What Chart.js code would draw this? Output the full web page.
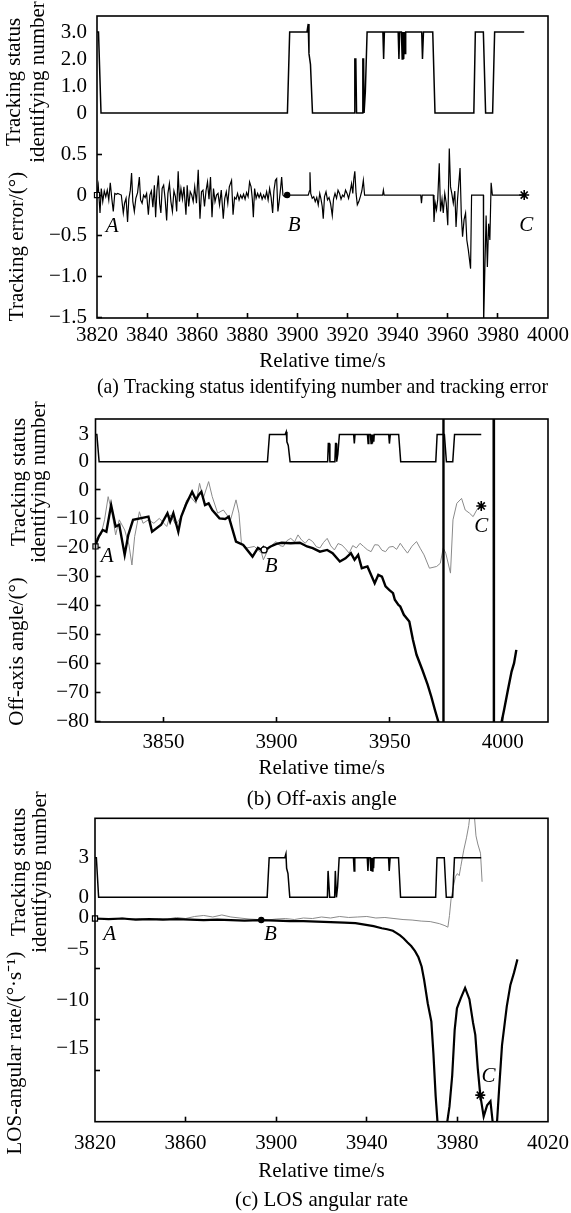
<!DOCTYPE html>
<html><head><meta charset="utf-8">
<script src="https://cdn.jsdelivr.net/npm/chart.js@4/dist/chart.umd.min.js"></script>
<style>
html,body{margin:0;padding:0;background:#fff;}
#wrap{position:relative;width:571px;height:1213px;overflow:hidden;background:#fff;}
canvas{position:absolute;left:0;}
</style></head><body><div id="wrap">
<canvas id="ca" width="571" height="410" style="top:0px"></canvas>
<canvas id="cb" width="571" height="425" style="top:395px"></canvas>
<canvas id="cc" width="571" height="428" style="top:785px"></canvas>
</div>
<script>
// ---------------- DATA ----------------
// tracking status identifying number (shared by all three panels): [time s, status]
const STATUS = [[3820,3],[3820.6,3],[3821.6,0],[3896,0],[3896.9,3],[3903.8,3],[3904.3,3.3],[3904.6,2.2],[3905.2,1.8],[3906,0],
[3922.6,0],[3922.9,2],[3923.3,2],[3923.6,0],[3925.8,0],[3926.1,2],[3926.4,2],[3926.6,0],[3927.1,0.8],[3927.8,3],
[3934.1,3],[3934.4,2],[3934.7,3],[3940.2,3],[3940.5,2],[3940.8,3],[3941.5,3],[3941.8,2],[3942.1,3],[3942.4,2],[3942.7,3],[3943.0,2.2],[3943.2,3],
[3949.6,3],[3949.9,2],[3950.3,3],[3954.0,3],[3954.9,0],[3970.4,0],[3971.0,3],[3974.2,3],[3975.1,0],[3977.9,0],[3978.7,3],[3990.5,3]];

// (a) tracking error /deg
const TRACK_ERROR = [[3820,0.02],[3820.5,0.12],[3821.2,-0.22],[3821.7,0.08],[3822.3,-0.08],[3822.9,0.05],[3823.5,-0.02],[3824.1,0.06],[3824.7,-0.06],[3825.3,0.15],[3825.9,-0.04],[3826.5,-0.2],[3827.1,0.02],[3827.7,0.01],[3828.3,0.02],[3829,0.01],[3829.7,0.0],[3830.5,-0.22],[3831,-0.1],[3831.6,-0.04],[3832.2,-0.33],[3832.7,-0.05],[3833.3,0.06],[3833.8,0.27],[3834.3,-0.08],[3834.9,-0.2],[3835.5,-0.04],[3836.2,0.03],[3836.9,0.22],[3837.4,-0.06],[3838,-0.1],[3838.6,0.0],[3839.2,-0.03],[3839.8,0.02],[3840.5,-0.24],[3841.1,0.0],[3841.7,0.05],[3842.3,-0.15],[3842.9,0.12],[3843.4,-0.27],[3843.9,0.05],[3844.5,0.24],[3845,-0.1],[3845.5,-0.22],[3846,0.08],[3846.6,0.12],[3847.2,-0.05],[3847.8,-0.31],[3848.3,0.02],[3848.9,0.14],[3849.5,-0.08],[3850.1,-0.2],[3850.7,0.05],[3851.3,-0.02],[3851.8,-0.2],[3852.4,0.29],[3852.9,-0.08],[3853.5,0.08],[3854.1,-0.05],[3854.7,0.1],[3855.5,-0.24],[3856,0.12],[3856.6,-0.14],[3857.2,0.04],[3857.8,0.0],[3858.4,-0.08],[3859,0.1],[3859.7,-0.1],[3860.4,0.31],[3861.1,-0.29],[3861.7,0.04],[3862.3,0.06],[3862.9,-0.14],[3863.5,0.05],[3864.1,0.16],[3864.7,-0.05],[3865.3,0.22],[3865.9,-0.27],[3866.5,0.08],[3867.1,-0.08],[3867.7,0.0],[3868.3,0.02],[3868.9,-0.12],[3869.6,0.06],[3870.4,-0.29],[3871,-0.04],[3871.6,0.04],[3872.2,-0.1],[3872.8,0.1],[3873.7,0.18],[3874.3,-0.24],[3874.9,-0.03],[3875.5,-0.05],[3876.1,0.02],[3876.7,-0.06],[3877.3,0.0],[3877.9,-0.04],[3878.5,0.01],[3879.1,-0.05],[3879.7,0.03],[3880.3,-0.02],[3880.9,0.16],[3881.5,0.1],[3882,-0.05],[3882.4,-0.27],[3882.9,0.08],[3883.5,-0.04],[3884.1,0.02],[3884.7,-0.03],[3885.3,0.02],[3885.9,-0.05],[3886.5,0.0],[3887.1,-0.04],[3887.7,0.04],[3888.3,-0.06],[3888.9,0.08],[3889.5,-0.03],[3890.1,-0.22],[3890.6,0.05],[3891.2,0.18],[3891.7,0.2],[3892.2,-0.2],[3892.7,-0.08],[3893.2,0.06],[3893.7,0.22],[3894.2,0.0],[3894.8,-0.02],[3895.3,-0.02],[3895.9,0.0],
[3904.3,0],[3904.8,0.05],[3905,0.28],[3905.3,0.02],[3905.9,-0.04],[3906.5,-0.02],[3907.1,-0.08],[3907.7,-0.03],[3908.3,-0.12],[3908.9,0.02],[3909.4,-0.05],[3909.9,-0.14],[3910.3,-0.29],[3910.8,-0.02],[3911.4,0.04],[3912,-0.06],[3912.6,-0.03],[3913.2,-0.1],[3913.9,-0.25],[3914.4,-0.05],[3915,0.02],[3915.6,-0.04],[3916.2,0.06],[3916.8,0.02],[3917.4,-0.05],[3918,0.0],[3918.6,-0.02],[3919.2,0.06],[3919.8,0.02],[3920.4,-0.04],[3921,0.04],[3921.6,0.14],[3922.1,0.02],[3922.5,0.2],[3922.9,0.29],[3923.4,0.02],[3923.9,-0.12],[3924.5,-0.08],[3925.1,-0.02],[3925.7,0.05],[3926.3,0.18],[3926.8,0.0],
[3934,0],[3934.3,0.06],[3934.6,0],[3949.2,0],[3949.5,-0.1],[3949.8,0],[3954.2,0],[3954.5,-0.33],[3955,-0.1],[3955.5,-0.18],[3956,-0.05],[3956.6,0.39],[3957.1,-0.2],[3957.7,-0.05],[3958.2,-0.22],[3958.8,0.02],[3959.4,-0.1],[3960,-0.37],[3960.6,0.57],[3961.1,0.1],[3961.6,0.02],[3962.2,-0.1],[3962.8,0.05],[3963.3,-0.39],[3963.9,-0.05],[3964.9,0.33],[3965.4,-0.24],[3965.9,-0.51],[3966.5,-0.3],[3967.1,-0.22],[3967.6,-0.55],[3968.2,-0.67],[3969.1,-0.9],[3969.5,0],[3974.2,0],[3974.3,-1.6],[3974.8,-0.9],[3975.3,-0.25],[3975.8,-0.88],[3976.3,-0.35],[3976.8,-0.55],[3977.3,0.15],[3977.8,0],[3990.5,0]];

// (b) off-axis angle /deg, thick black and thin grey curves
const OFFAXIS_BLACK = [[3820,-19],[3821.5,-16],[3823.2,-13.8],[3824.8,-14.4],[3826.9,-5.2],[3828.9,-12.6],[3830.5,-12],[3832.9,-22.4],[3834.5,-15.5],[3836.6,-10.3],[3843.4,-9.2],[3845,-14.4],[3849,-12],[3851.8,-8],[3853,-10.9],[3854.4,-8],[3856.6,-14.4],[3857.9,-9.2],[3860,-5],[3862.7,-0.6],[3864.4,-3.4],[3865.6,-1.7],[3866.8,-0.6],[3868.4,-5.2],[3870,-4.6],[3871.6,-6.9],[3874.8,-9.8],[3877.3,-10],[3878.9,-9.2],[3882.1,-17.8],[3885.3,-19],[3889.4,-23],[3891.8,-20],[3893.4,-20.7],[3894.2,-19.8],[3895,-20.7],[3897.4,-19.5],[3900,-18.6],[3902.3,-18.2],[3906.3,-18.4],[3910.3,-18.2],[3913.5,-19.5],[3916,-20.1],[3919.2,-21.3],[3922.4,-20.7],[3924.8,-21.8],[3928,-24.7],[3930.5,-23.6],[3932.9,-21.8],[3934.5,-24.1],[3936.1,-22.4],[3937.7,-27],[3940.2,-26.4],[3943.4,-32.2],[3945,-29.3],[3946.6,-29.9],[3948.2,-33.3],[3949.8,-34.5],[3951.5,-35.6],[3952.3,-37.9],[3953.9,-39.7],[3954.7,-40.2],[3956.3,-43.1],[3958.7,-45.4],[3960.3,-51.7],[3961.9,-56.9],[3964.4,-62],[3966.8,-67.2],[3968.4,-71.3],[3970,-75.9],[3971.6,-80.2],[3973.6,-88],[3973.8,95],[3995.9,95],[3996.1,-95],[3999.5,-80],[4000.6,-75.9],[4002.3,-69],[4003.9,-62.7],[4005,-59.8],[4006,-55.2]];
const OFFAXIS_GRAY = [[3820,-17.2],[3822.4,-15.5],[3824,-10.3],[3825.6,-2.3],[3827.3,-8],[3828.9,-15.5],[3830.5,-10.3],[3832.9,-13.8],[3834.8,-19],[3836.1,-25.9],[3837.3,-16.1],[3839.4,-7.5],[3841,-11.5],[3843.4,-10.3],[3845.8,-11.5],[3848.2,-9.8],[3851.5,-12.6],[3853,-8.6],[3855.5,-12],[3857.9,-9.2],[3860.3,-3.4],[3862,-2.3],[3864.4,-4.6],[3866,2.3],[3867.6,-2.9],[3870,2.9],[3871.6,-2.3],[3874,-8],[3876.5,-6.9],[3879.7,-10.3],[3882.1,-3.4],[3883.4,-8],[3884.5,-18.4],[3886.9,-20],[3890.2,-19.5],[3893.4,-21.8],[3894.2,-24.1],[3896.6,-20],[3899.8,-17.8],[3901.5,-19.2],[3903,-19.5],[3904.6,-17.5],[3906.3,-16.7],[3908,-17.9],[3909.5,-15.5],[3911,-17.2],[3912.7,-18.4],[3914.3,-16.9],[3916,-17.8],[3917.6,-19.6],[3919.2,-20],[3920.8,-18.1],[3922.4,-16.7],[3924,-19.3],[3925.6,-20.7],[3927.2,-18.5],[3928.9,-19],[3930.5,-20.3],[3932.1,-21.8],[3933.7,-19.2],[3935.3,-20],[3936.9,-18.4],[3938.5,-19.5],[3940.1,-20.6],[3941.8,-21.3],[3943.4,-18.9],[3945,-19],[3946.6,-20.8],[3948.2,-21.3],[3949.8,-19.7],[3951.5,-19.5],[3953.1,-20.5],[3954.7,-18.4],[3956.3,-20.2],[3957.9,-21.8],[3959.9,-19.4],[3961.9,-17.8],[3963.5,-20.1],[3965.2,-22.4],[3967.6,-27],[3970.8,-26.4],[3972.4,-25.3],[3973.7,-20],[3974.8,-21.8],[3976.9,-28.7],[3978,-10.3],[3979.7,-4.6],[3981.8,-2.9],[3983.4,-6.9],[3985.3,-8],[3986.9,-9.2],[3988.5,-6.9],[3990.5,-5.2]];

// (c) LOS angular rate /(deg/s), thick black and thin grey curves
const LOS_BLACK = [[3820,-0.1],[3826,-0.15],[3832,-0.1],[3838,-0.2],[3844,-0.15],[3850,-0.2],[3856,-0.15],[3862,-0.2],[3868,-0.25],[3874,-0.2],[3880,-0.25],[3886,-0.3],[3893.4,-0.25],[3900,-0.3],[3906,-0.35],[3912,-0.35],[3918,-0.4],[3924,-0.45],[3930,-0.5],[3935,-0.55],[3939,-0.7],[3943,-0.85],[3946.6,-1.05],[3949,-1.15],[3951.5,-1.3],[3953,-1.5],[3954.7,-1.75],[3956.3,-2.05],[3958,-2.45],[3959.6,-2.8],[3961.3,-3.3],[3962.8,-3.9],[3964.2,-4.8],[3965.3,-6.1],[3966.9,-8.4],[3968.5,-10.2],[3969.4,-13.3],[3970.4,-17.5],[3971.3,-20.3],[3972.5,-23],[3974.2,-23],[3975.4,-20.2],[3976.5,-18.5],[3977.7,-15.5],[3978.8,-11],[3979.8,-8.9],[3981.5,-7.9],[3983.4,-6.9],[3985.3,-8.0],[3986.9,-10.3],[3987.9,-11.5],[3989.0,-14.8],[3990.1,-17.4],[3991.6,-19.5],[3993.1,-18.4],[3994.6,-18.0],[3995.8,-20.5],[3996.8,-21.5],[3997.5,-20.0],[3998.5,-16.5],[3999.7,-12.5],[4001.8,-8.7],[4003.4,-6.6],[4005,-5.4],[4006.5,-4.1]];
const LOS_GRAY = [[3820,-0.25],[3824,-0.1],[3828,-0.2],[3832,-0.05],[3836,-0.15],[3840,-0.1],[3844,-0.2],[3848,-0.1],[3852,-0.15],[3856,0.0],[3860,-0.1],[3864,0.1],[3868,0.2],[3872,0.05],[3876,0.25],[3880,0.05],[3884,-0.05],[3888,-0.15],[3892,-0.2],[3896,-0.25],[3900,-0.15],[3904,-0.1],[3908,-0.2],[3912,-0.05],[3916,-0.1],[3920,0.05],[3924,-0.05],[3928,0.1],[3932,0.0],[3936,0.05],[3940,0.1],[3944,-0.05],[3948,0.0],[3952,-0.1],[3956,-0.2],[3960,-0.25],[3964,-0.35],[3968,-0.4],[3972,-0.6],[3974.5,-0.8],[3975.8,-0.95],[3976.5,0.2],[3977.2,1.8],[3978.2,3.0],[3979.1,4.0],[3980,4.3],[3980.8,4.1],[3981.5,5.0],[3982.8,6.6],[3984,7.8],[3985,9.0],[3986.3,11.5],[3987.4,10.2],[3988.2,8.0],[3989.0,7.2],[3990.2,6.3],[3990.9,3.5]];

// marked points A (start), B, C (end *)
const A_POINTS = {A:[3820,0], B:[3895.9,0], C:[3990.5,0]};
const B_POINTS = {A:[3820,-19.5], B:[3894.5,-20.7], C:[3990.5,-5.5]};
const C_POINTS = {A:[3820,-0.1], B:[3893.4,-0.25], C:[3990.1,-17.4]};

// tick values and labels
const A_X_TICKS = [3820,3840,3860,3880,3900,3920,3940,3960,3980,4000];
const B_X_TICKS = [3850,3900,3950,4000];
const C_X_TICKS = [3820,3860,3900,3940,3980,4020];
const A_STATUS_TICKS = [0,1,2,3];
const A_STATUS_LABELS = ['0','1.0','2.0','3.0'];
const BC_STATUS_TICKS = [0,3];
const BC_STATUS_LABELS = ['0','3'];
const A_ERR_TICKS = [0.5,0,-0.5,-1.0,-1.5];
const A_ERR_LABELS = ['0.5','0','\u22120.5','\u22121.0','\u22121.5'];
const B_ANGLE_TICKS = [0,-10,-20,-30,-40,-50,-60,-70,-80];
const B_ANGLE_LABELS = ['0','\u221210','\u221220','\u221230','\u221240','\u221250','\u221260','\u221270','\u221280'];
const C_RATE_LABEL_AT = [0,-3.1,-8.1,-12.8];
const C_RATE_LABELS = ['0','\u22125','\u221210','\u221215'];
const C_RATE_MARKS = [-5,-10,-15];

// ---------------- RENDER ----------------
const SERIF = '"Liberation Serif","Times New Roman",serif';
const F_TICK = {family:SERIF, size:21, lineHeight:1.2};
const F_TITLE = {family:SERIF, size:21, lineHeight:1.2, weight:'normal'};
const LH_TICK = 21*1.2, LH_T = 21*1.2;
const pts = a => a.map(p => ({x:p[0], y:p[1]}));

const framePlugin = {
  id:'frame',
  beforeDatasetsDraw(chart){
    const {ctx, chartArea:a} = chart;
    ctx.save(); ctx.beginPath();
    ctx.rect(a.left-6, a.top, a.right-a.left+12, a.bottom-a.top);
    ctx.clip();
  },
  afterDatasetsDraw(chart){
    const {ctx, chartArea:a} = chart;
    ctx.restore();
    ctx.save(); ctx.strokeStyle='#000'; ctx.lineWidth=1.6;
    ctx.strokeRect(a.left, a.top, a.right-a.left, a.bottom-a.top);
    ctx.restore();
  }
};

function mkPanel(id, P){
  const ar = P.area;
  const xHeight = P.captionCenter - LH_T/2 - ar.bottom;
  const xTitlePb = ar.bottom + xHeight - LH_T/2 - P.xTitleCenter;
  const tickPad = P.tickCenter - ar.bottom + 5 - LH_TICK/2;
  const padBottom = P.canvasH - (ar.bottom - P.canvasTop) - xHeight - LH_T;

  const vTicks = P.value.ticks.concat(P.value.marks || []);
  const nLab = P.value.ticks.length;

  const textPlugin = {
    id:'texts'+id,
    afterDraw(chart){
      const ctx = chart.ctx;
      ctx.save(); ctx.fillStyle='#000';
      ctx.font = 'italic 21px ' + SERIF; ctx.textAlign='center'; ctx.textBaseline='middle';
      const xs = chart.scales.x, ys = chart.scales.yv;
      for (const L of P.letters) ctx.fillText(L[0], xs.getPixelForValue(L[1]), ys.getPixelForValue(L[2]));
      ctx.font = '21px ' + SERIF;
      for (const t of P.yTitles){
        ctx.save(); ctx.translate(t.x, t.y - P.canvasTop); ctx.rotate(-Math.PI/2);
        ctx.fillText(t.text, 0, 0); ctx.restore();
      }
      ctx.restore();
    }
  };

  const pt = P.points;
  const datasets = [
    {data:pts([pt.C]), showLine:false, pointStyle:'star', pointRadius:5, pointBorderWidth:1.6, pointBorderColor:'#000', pointBackgroundColor:'#000', yAxisID:'yv', clip:false},
    {data:pts([pt.B]), showLine:false, pointStyle:'circle', pointRadius:P.bRadius, pointBorderWidth:1.2, pointBorderColor:'#000', pointBackgroundColor:P.bFill, yAxisID:'yv', clip:false},
    {data:pts([pt.A]), showLine:false, pointStyle:'rect', pointRadius:3.6, pointBorderWidth:1.2, pointBorderColor:'#000', pointBackgroundColor:'#fff', yAxisID:'yv', clip:false},
  ];
  for (const s of P.series) datasets.push({data:pts(s.data), borderColor:s.color, borderWidth:s.width, pointRadius:0, tension:0, fill:false, yAxisID:s.axis, clip:false});

  return new Chart(document.getElementById(id), {
    type:'line',
    data:{datasets},
    options:{
      responsive:false, animation:false, events:[],
      layout:{padding:{left:0, right:571-ar.right, top:ar.top-P.canvasTop, bottom:padBottom}},
      plugins:{legend:{display:false}, tooltip:{enabled:false},
        title:{display:true, text:P.caption, position:'bottom', fullSize:false, font:F_TITLE, color:'#000', padding:{top:0,bottom:0}}},
      scales:{
        x:{type:'linear', min:P.xMin, max:P.xMax,
          afterFit(s){ s.height = xHeight; s.paddingLeft = 0; s.paddingRight = 0; },
          afterBuildTicks(s){ s.ticks = P.xTicks.map(v=>({value:v})); },
          ticks:{autoSkip:false, maxRotation:0, minRotation:0, padding:tickPad, font:F_TICK, color:'#000', callback:v=>String(v)},
          grid:{display:true, drawOnChartArea:false, drawTicks:true, tickLength:-5, tickWidth:1.6,
            tickColor:c => (c.tick && (c.tick.value===P.xMin || c.tick.value===P.xMax)) ? 'rgba(0,0,0,0)' : '#000'},
          border:{display:false},
          title:{display:true, text:'Relative time/s', font:F_TITLE, color:'#000', padding:{top:0,bottom:xTitlePb}}
        },
        yv:{type:'linear', position:'left', stack:'s', stackWeight:P.value.weight, min:P.value.min, max:P.value.max,
          afterFit(s){ s.width = ar.left; s.paddingTop = 0; s.paddingBottom = 0; },
          afterBuildTicks(s){ s.ticks = vTicks.map(v=>({value:v})); },
          ticks:{autoSkip:false, padding:P.gap+5, font:F_TICK, color:'#000', callback:(v,i)=> i<nLab ? P.value.labels[i] : ''},
          grid:{display:true, drawOnChartArea:false, drawTicks:true, tickLength:-5, tickWidth:1.6,
            tickColor:c => (P.value.markAll ? true : c.index>=nLab) ? '#000' : 'rgba(0,0,0,0)'},
          border:{display:false}
        },
        ys:{type:'linear', position:'left', stack:'s', stackWeight:P.status.weight, min:P.status.min, max:P.status.max,
          afterFit(s){ s.width = ar.left; s.paddingTop = 0; s.paddingBottom = 0; },
          afterBuildTicks(s){ s.ticks = P.status.ticks.map(v=>({value:v})); },
          ticks:{autoSkip:false, padding:P.gap, font:F_TICK, color:'#000', callback:(v,i)=>P.status.labels[i]},
          grid:{display:false, drawTicks:false},
          border:{display:false}
        }
      }
    },
    plugins:[framePlugin, textPlugin]
  });
}

mkPanel('ca', {
  canvasTop:0, canvasH:410, area:{left:97,right:548,top:16,bottom:318},
  xMin:3820, xMax:4000, xTicks:A_X_TICKS,
  status:{min:-0.926, max:3.593, weight:122, ticks:A_STATUS_TICKS, labels:A_STATUS_LABELS},
  value:{min:-1.504, max:0.698, weight:180, ticks:A_ERR_TICKS, labels:A_ERR_LABELS, markAll:true},
  gap:10, tickCenter:335, xTitleCenter:361, captionCenter:387,
  caption:'(a) Tracking status identifying number and tracking error',
  series:[{data:STATUS,color:'#000',width:1.5,axis:'ys'},{data:TRACK_ERROR,color:'#000',width:1.2,axis:'yv'}],
  points:A_POINTS, bRadius:2.6, bFill:'#000',
  letters:[['A',3826.1,-0.38],['B',3898.7,-0.37],['C',3991.3,-0.37]],
  yTitles:[{text:'Tracking status',x:14,y:82},{text:'identifying number',x:38,y:82},{text:'Tracking error/(\u00b0)',x:17,y:246.5}]
});

mkPanel('cb', {
  canvasTop:395, canvasH:425, area:{left:95.5,right:548,top:419,bottom:722},
  xMin:3820, xMax:4020, xTicks:B_X_TICKS,
  status:{min:-1.577, max:4.709, weight:57, ticks:BC_STATUS_TICKS, labels:BC_STATUS_LABELS},
  value:{min:-80.11, max:4.834, weight:246, ticks:B_ANGLE_TICKS, labels:B_ANGLE_LABELS, markAll:true},
  gap:6.5, tickCenter:742.5, xTitleCenter:768, captionCenter:799,
  caption:'(b) Off-axis angle',
  series:[{data:STATUS,color:'#000',width:1.5,axis:'ys'},{data:OFFAXIS_BLACK,color:'#000',width:2.4,axis:'yv'},{data:OFFAXIS_GRAY,color:'#8a8a8a',width:1,axis:'yv'}],
  points:B_POINTS, bRadius:3, bFill:'#fff',
  letters:[['A',3825.2,-23],['B',3897.6,-26.5],['C',3990.5,-12.7]],
  yTitles:[{text:'Tracking status',x:19,y:482},{text:'identifying number',x:39,y:482},{text:'Off-axis angle/(\u00b0)',x:17,y:651.5}]
});

mkPanel('cc', {
  canvasTop:785, canvasH:428, area:{left:95,right:548,top:818.3,bottom:1121.7},
  xMin:3820, xMax:4020, xTicks:C_X_TICKS,
  status:{min:-0.583, max:5.985, weight:86.7, ticks:BC_STATUS_TICKS, labels:BC_STATUS_LABELS},
  value:{min:-20, max:1.224, weight:216.7, ticks:C_RATE_LABEL_AT, labels:C_RATE_LABELS, marks:C_RATE_MARKS, markAll:false},
  gap:6, tickCenter:1143.7, xTitleCenter:1171, captionCenter:1200,
  caption:'(c) LOS angular rate',
  series:[{data:STATUS,color:'#000',width:1.5,axis:'ys'},{data:LOS_BLACK,color:'#000',width:2.2,axis:'yv'},{data:LOS_GRAY,color:'#8a8a8a',width:1,axis:'yv'}],
  points:C_POINTS, bRadius:2.6, bFill:'#000',
  letters:[['A',3826.5,-1.7],['B',3897.4,-1.7],['C',3993.7,-15.6]],
  yTitles:[{text:'Tracking status',x:19,y:872},{text:'identifying number',x:40,y:872},{text:'LOS-angular rate/(\u00b0\u00b7s\u207b\u00b9)',x:15,y:1053}]
});
</script>
</body></html>
